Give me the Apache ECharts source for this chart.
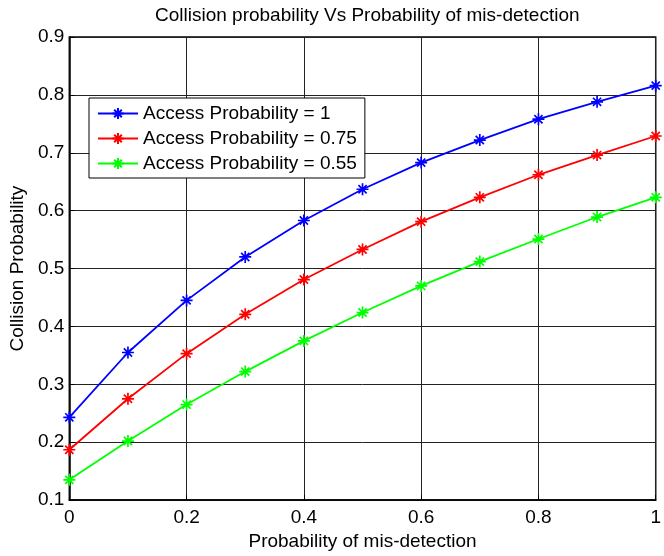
<!DOCTYPE html>
<html>
<head>
<meta charset="utf-8">
<script src="https://cdn.jsdelivr.net/npm/echarts@6/dist/echarts.min.js"></script>
<style>
html,body{margin:0;padding:0;background:#fff;}
#c{width:664px;height:556px;}
</style>
</head>
<body>
<div id="c"></div>
<script>
const xValues = [0, 0.1, 0.2, 0.3, 0.4, 0.5, 0.6, 0.7, 0.8, 0.9, 1.0];
const seriesNames = ['Access Probability = 1', 'Access Probability = 0.75', 'Access Probability = 0.55'];
const blueValues  = [0.243, 0.355, 0.445, 0.520, 0.583, 0.637, 0.683, 0.722, 0.758, 0.788, 0.816];
const redValues   = [0.187, 0.275, 0.353, 0.421, 0.481, 0.533, 0.581, 0.623, 0.662, 0.696, 0.729];
const greenValues = [0.135, 0.202, 0.265, 0.322, 0.375, 0.424, 0.470, 0.512, 0.551, 0.589, 0.623];
const colors = ['#0000ff', '#ff0000', '#00ff00'];

const FONT = '"Liberation Sans", Arial, Helvetica, sans-serif';
const asterisk = 'path://M5,0L5,10M0,5L10,5M1.6,1.6L8.4,8.4M1.6,8.4L8.4,1.6';

function mk(name, vals, color) {
  return {
    name: name,
    type: 'line',
    data: xValues.map((x, i) => [x, vals[i]]),
    symbol: asterisk,
    symbolSize: 12,
    showAllSymbol: true,
    lineStyle: {color: color, width: 1.8},
    itemStyle: {color: color, borderColor: color, borderWidth: 1.7},
    emphasis: {disabled: true},
    animation: false
  };
}

const chart = echarts.init(document.getElementById('c'), null, {renderer: 'canvas'});
chart.setOption({
  backgroundColor: '#ffffff',
  animation: false,
  textStyle: {fontFamily: FONT},
  title: {
    text: 'Collision probability Vs Probability of mis-detection',
    left: 155, top: 6, padding: 0,
    textStyle: {fontSize: 19, fontWeight: 'normal', color: '#000', fontFamily: FONT}
  },
  grid: {left: 69, right: 1, top: 37, bottom: 49, show: true, borderColor: '#000', borderWidth: 1.5, backgroundColor: '#fff'},
  legend: {
    orient: 'vertical',
    left: 89, top: 98,
    padding: [6, 8, 5, 8],
    itemGap: 6,
    itemWidth: 40, itemHeight: 14,
    backgroundColor: '#fff',
    borderColor: '#000', borderWidth: 1,
    textStyle: {fontSize: 19, color: '#000', fontFamily: FONT},
    data: seriesNames
  },
  xAxis: {
    type: 'value', min: 0, max: 1, interval: 0.2,
    name: 'Probability of mis-detection', nameLocation: 'middle', nameGap: 27,
    nameTextStyle: {fontSize: 19, color: '#000', fontFamily: FONT},
    axisLine: {show: true, lineStyle: {color: '#000', width: 1.5}},
    axisTick: {show: true, inside: true, length: 5, lineStyle: {color: '#000'}},
    axisLabel: {fontSize: 19, color: '#000', margin: 8, fontFamily: FONT},
    splitLine: {show: true, lineStyle: {color: '#222', width: 1}}
  },
  yAxis: {
    type: 'value', min: 0.1, max: 0.9, interval: 0.1,
    name: 'Collision Probability', nameLocation: 'middle', nameGap: 37,
    nameTextStyle: {fontSize: 19, color: '#000', fontFamily: FONT},
    axisLine: {show: true, lineStyle: {color: '#000', width: 1.5}},
    axisTick: {show: true, inside: true, length: 5, lineStyle: {color: '#000'}},
    axisLabel: {fontSize: 19, color: '#000', margin: 5, fontFamily: FONT, formatter: v => (Math.round(v*10)/10).toString()},
    splitLine: {show: true, lineStyle: {color: '#222', width: 1}}
  },
  series: [
    mk(seriesNames[0], blueValues, colors[0]),
    mk(seriesNames[1], redValues, colors[1]),
    mk(seriesNames[2], greenValues, colors[2])
  ]
});
</script>
</body>
</html>
